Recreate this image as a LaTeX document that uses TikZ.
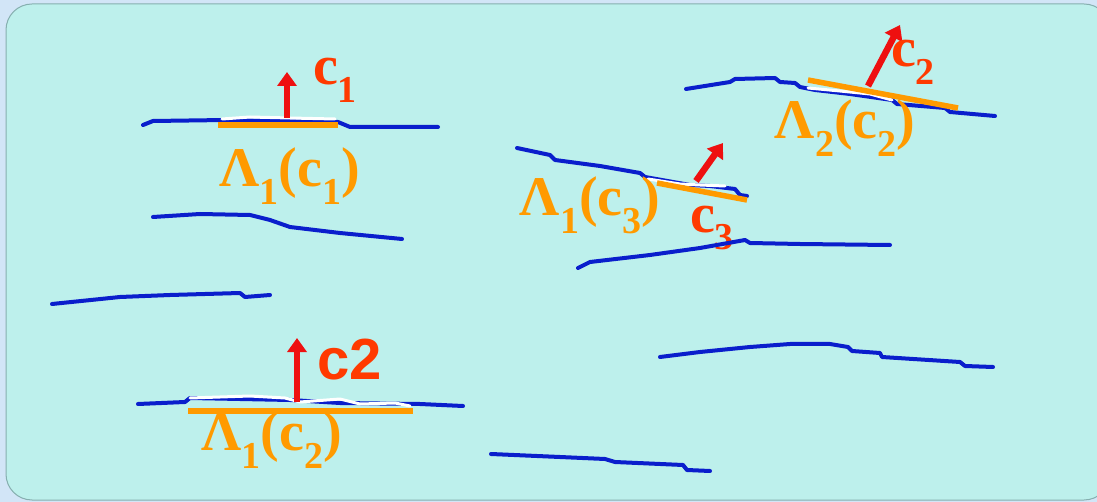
\documentclass[tikz,border=0pt]{standalone}
\usepackage{fontspec}
\newfontface\tnrb{Liberation Serif Bold}
\newfontface\arialb{Liberation Sans Bold}
\usetikzlibrary{arrows.meta}
\definecolor{outerbg}{HTML}{D2E5F7}
\definecolor{innerbg}{HTML}{BDF0EC}
\definecolor{framec}{HTML}{86AFAF}
\definecolor{curveblue}{HTML}{0A1ECC}
\definecolor{lamorange}{HTML}{FF9A00}
\definecolor{vecred}{HTML}{EE1010}
\definecolor{cred}{HTML}{FF3A00}
\newcommand\lsub[1]{\raisebox{-0.32em}{\fontsize{38}{38}\selectfont #1}}
\tikzset{
  curve/.style={draw=curveblue, line width=4pt, line join=round, line cap=round},
  hilite/.style={draw=white, line width=3pt, line join=round, line cap=round},
  lamseg/.style={draw=lamorange, line width=5.5pt},
  vec/.style={draw=vecred, line width=6.5pt, -{Triangle[width=19pt,length=14pt]}, fill=vecred},
  lamlabel/.style={text=lamorange, font=\tnrb\fontsize{56}{56}\selectfont, inner sep=0pt},
  clabel/.style={text=cred, font=\tnrb\fontsize{56}{56}\selectfont, inner sep=0pt},
  csans/.style={text=cred, font=\arialb\fontsize{58}{58}\selectfont, inner sep=0pt}
}
\begin{document}
\begin{tikzpicture}[x=1pt,y=-1pt]
\useasboundingbox (0,0) rectangle (1097,502);
\fill[outerbg] (0,0) rectangle (1097,502);
\draw[framec, fill=innerbg, line width=1pt, rounded corners=26pt] (6,4) rectangle (1110,500);

% curve 1 (top left)
\draw[curve] (143,125) -- (153,121) -- (225,120) -- (338,122) -- (350,127) -- (438,127);
\draw[hilite] (222,119) -- (250,117) -- (290,118) -- (335,119);
\draw[lamseg] (218,125) -- (338,125);
\coordinate (a1s) at (287,118);
\coordinate (a1e) at (287,72);
\draw[vec] (a1s) -- (a1e);
\node[clabel] (c1) at (335,80) {c\lsub{1}};
\node[lamlabel] (l1) at (290,176) {Λ\lsub{1}(c\lsub{1})};

% curve 2
\draw[curve] (153,217) -- (200,214) -- (250,215) -- (270,220) -- (290,227) -- (340,233) -- (402,239);
% curve 3
\draw[curve] (52,304) -- (120,297) -- (170,295) -- (240,293) -- (245,297) -- (270,295);

% curve 4 (bottom left)
\draw[curve] (138,404) -- (185,402) -- (190,398) -- (290,400) -- (340,403) -- (420,404) -- (463,406);
\draw[hilite] (190,398) -- (250,396) -- (285,398) -- (300,402) -- (340,399) -- (360,404) -- (395,403) -- (410,406);
\draw[lamseg] (188,411) -- (413,411);
\coordinate (a4s) at (297,402);
\coordinate (a4e) at (297,338);
\draw[vec] (a4s) -- (a4e);
\node[csans] (c2b) at (350,360) {c2};
\node[lamlabel] (l4) at (272,440) {Λ\lsub{1}(c\lsub{2})};

% curve 5 (bottom middle)
\draw[curve] (491,454) -- (560,457) -- (605,459) -- (615,462) -- (683,465) -- (687,470) -- (710,471);

% curve 6 (middle, with c3)
\draw[curve] (517,148) -- (550,155) -- (555,160) -- (600,166) -- (640,173) -- (645,177) -- (690,185) -- (710,186) -- (735,189) -- (740,195) -- (747,196);
\draw[hilite] (648,179) -- (680,184) -- (700,185) -- (725,186);
\draw[lamseg] (657,183) -- (747,200);
\coordinate (a6s) at (696,181);
\coordinate (a6e) at (723,143);
\draw[vec] (a6s) -- (a6e);
\node[clabel] (c3) at (712,228) {c\lsub{3}};
\node[lamlabel] (l6) at (590,205) {Λ\lsub{1}(c\lsub{3})};

% curve 7
\draw[curve] (578,268) -- (590,262) -- (650,255) -- (700,248) -- (745,240) -- (750,243) -- (800,244) -- (890,245);

% curve 8 (top right)
\draw[curve] (686,89) -- (730,82) -- (735,79) -- (775,78) -- (780,82) -- (795,83) -- (800,87) -- (815,90) -- (850,94) -- (892,100) -- (897,104) -- (945,108) -- (950,112) -- (995,116);
\draw[hilite] (808,88) -- (840,91) -- (870,94) -- (892,100);
\draw[lamseg] (808,80) -- (958,108);
\coordinate (a8s) at (868,86);
\coordinate (a8e) at (900,25);
\draw[vec] (a8s) -- (a8e);
\node[clabel] (c2) at (913,62) {c\lsub{2}};
\node[lamlabel] (l8) at (845,128) {Λ\lsub{2}(c\lsub{2})};

% curve 9
\draw[curve] (660,357) -- (700,352) -- (750,347) -- (790,344) -- (830,344) -- (848,347) -- (852,351) -- (880,353) -- (882,357) -- (960,362) -- (965,366) -- (993,367);
\end{tikzpicture}
\end{document}
